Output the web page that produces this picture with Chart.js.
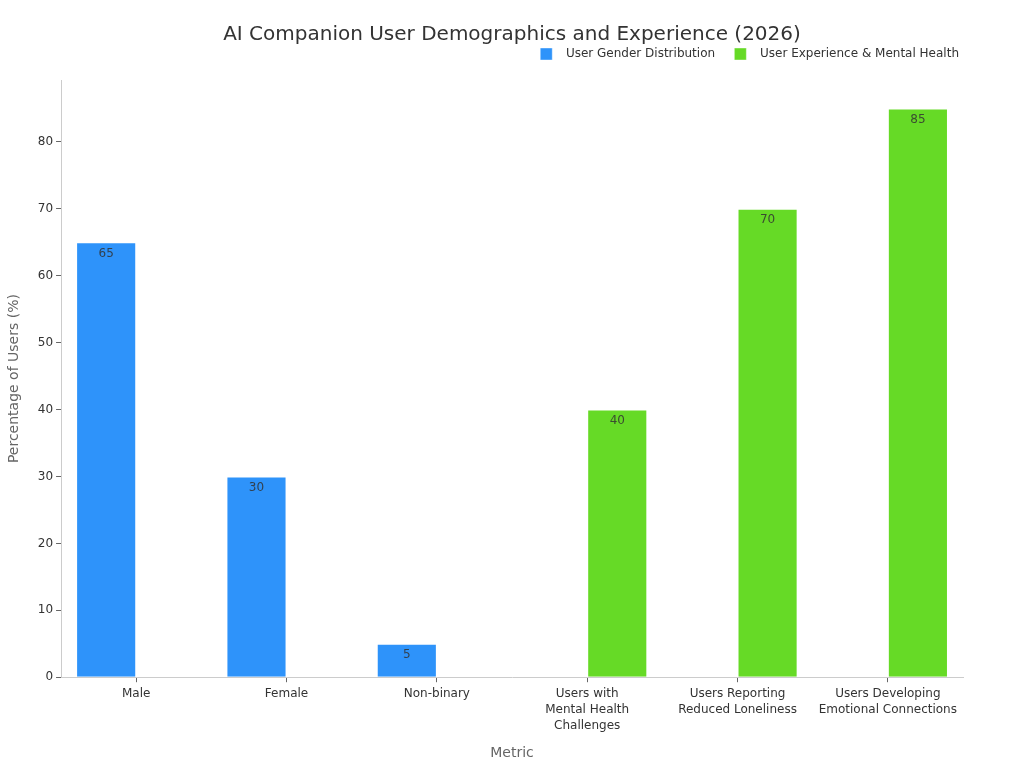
<!DOCTYPE html>
<html>
<head>
<meta charset="utf-8">
<script src="https://cdn.jsdelivr.net/npm/chart.js@4/dist/chart.umd.min.js"></script>
<style>
html,body{margin:0;padding:0;background:#fff;}
#wrap{width:1024px;height:768px;}
</style>
</head>
<body>
<div id="wrap"><canvas id="c" width="1024" height="768"></canvas></div>
<script>
const categories = [
  "Male",
  "Female",
  "Non-binary",
  ["Users with", "Mental Health", "Challenges"],
  ["Users Reporting", "Reduced Loneliness"],
  ["Users Developing", "Emotional Connections"]
];
const genderValues = [65, 30, 5, null, null, null];
const experienceValues = [null, null, null, 40, 70, 85];
const yTicks = [0, 10, 20, 30, 40, 50, 60, 70, 80];

const FONT = "'DejaVu Sans', sans-serif";
Chart.defaults.font.family = FONT;
Chart.defaults.color = '#333';

const valueLabels = {
  id: 'valueLabels',
  afterDatasetsDraw(chart) {
    const ctx = chart.ctx;
    ctx.save();
    ctx.font = '12px ' + FONT;
    ctx.fillStyle = 'rgba(51,51,51,0.85)';
    ctx.textAlign = 'center';
    ctx.textBaseline = 'middle';
    chart.data.datasets.forEach((ds, i) => {
      const meta = chart.getDatasetMeta(i);
      meta.data.forEach((bar, j) => {
        const v = ds.data[j];
        if (v === null || v === undefined) return;
        ctx.fillText(String(v), bar.x, bar.y + 11.5);
      });
    });
    ctx.restore();
  }
};

new Chart(document.getElementById('c'), {
  type: 'bar',
  data: {
    labels: categories,
    datasets: [
      {
        label: 'User Gender Distribution',
        data: genderValues,
        backgroundColor: '#2E93FA',
        borderColor: 'rgba(255,255,255,0.4)',
        borderWidth: 1,
        barPercentage: 1.0,
        categoryPercentage: 0.8
      },
      {
        label: 'User Experience & Mental Health',
        data: experienceValues,
        backgroundColor: '#66DA26',
        borderColor: 'rgba(255,255,255,0.4)',
        borderWidth: 1,
        barPercentage: 1.0,
        categoryPercentage: 0.8
      }
    ]
  },
  options: {
    responsive: false,
    animation: false,
    layout: { padding: { left: 0, right: 0, top: 0, bottom: 6 } },
    plugins: {
      title: {
        display: true,
        text: 'AI Companion User Demographics and Experience (2026)',
        font: { size: 20, weight: 'normal', family: FONT, lineHeight: 0.95 },
        color: '#333',
        padding: { top: 25, bottom: 0 }
      },
      subtitle: {
        display: true,
        text: '',
        weight: 500,
        font: { size: 1, lineHeight: 1 },
        padding: { top: 0, bottom: 9 }
      },
      legend: {
        display: true,
        position: 'top',
        align: 'end',
        fullSize: false,
        labels: {
          boxWidth: 12,
          boxHeight: 12,
          padding: 4,
          font: { size: 12, family: FONT },
          color: '#333',
          generateLabels(chart) {
            const items = Chart.defaults.plugins.legend.labels.generateLabels(chart);
            items.forEach((it, i) => {
              it.text = '  ' + it.text + (i < items.length - 1 ? '    ' : '');
            });
            return items;
          }
        }
      },
      tooltip: { enabled: false }
    },
    scales: {
      x: {
        grid: { display: true, drawOnChartArea: false, drawTicks: true, tickLength: 5, offset: false, color: '#666' },
        border: { display: true, color: '#ccc' },
        ticks: { font: { size: 12, family: FONT, lineHeight: 1.333 }, color: '#333', maxRotation: 0, autoSkip: false, padding: 4 },
        title: { display: true, text: 'Metric', font: { size: 14, family: FONT }, color: '#666', padding: { top: 7, bottom: 0 } }
      },
      y: {
        min: 0,
        max: 89.25,
        afterBuildTicks(scale) { scale.ticks = yTicks.map(v => ({ value: v })); },
        grid: { display: true, drawOnChartArea: false, drawTicks: true, tickLength: 5, color: '#666' },
        border: { display: true, color: '#ccc' },
        ticks: { font: { size: 12, family: FONT }, color: '#333', padding: 3 },
        title: { display: true, text: 'Percentage of Users (%)', font: { size: 14, family: FONT }, color: '#666', padding: { top: 6, bottom: 12 } }
      },
      yRight: {
        position: 'right',
        display: true,
        grid: { display: false },
        border: { display: false },
        ticks: { display: false },
        afterFit(scale) { scale.width = 61; }
      }
    }
  },
  plugins: [valueLabels]
});
</script>
</body>
</html>
